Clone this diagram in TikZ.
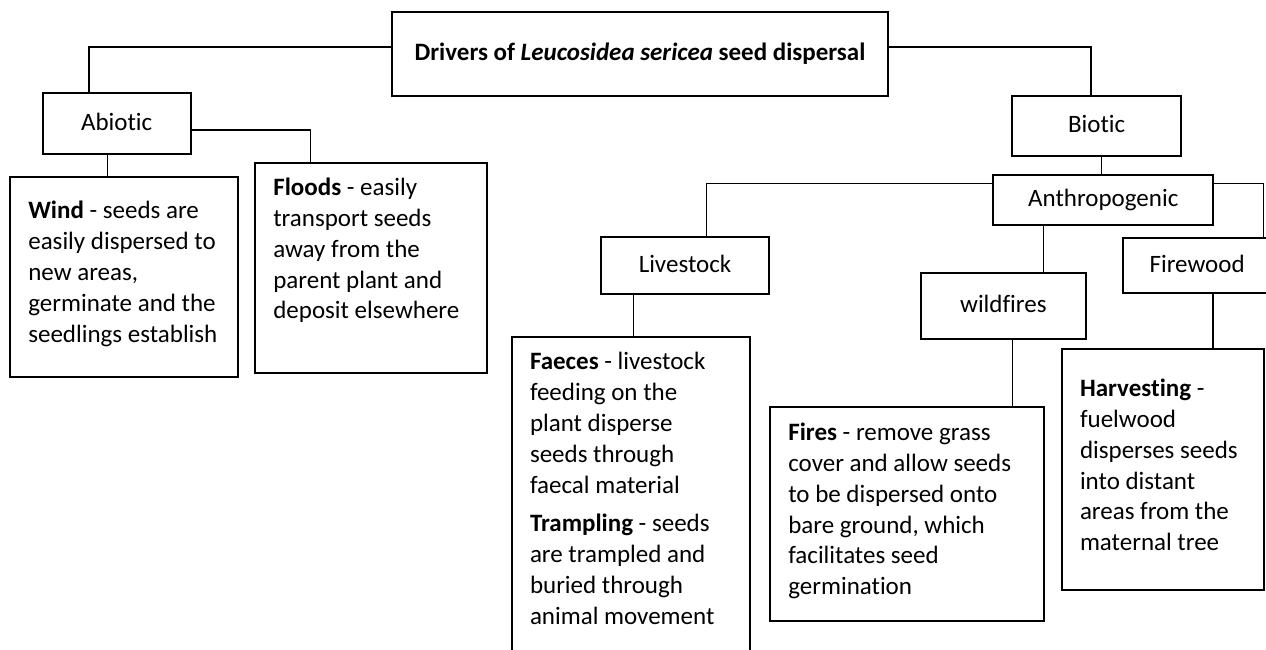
\documentclass[tikz,border=0pt]{standalone}
\usepackage{fontspec}
\setmainfont{Carlito}[Ligatures=NoCommon]
\tikzset{
  box/.style={draw, line width=1.8pt, inner sep=0pt, outer sep=0pt},
  lbl/.style={box, font=\fontsize{25}{30.8}\selectfont, text height=13pt, text depth=0pt},
  body/.style={font=\fontsize{25}{30.8}\selectfont, align=left, inner sep=0pt, outer sep=0pt, anchor=north west},
  conn/.style={line width=1.1pt},
}
\begin{document}
\begin{tikzpicture}[x=1pt,y=-1pt]
\useasboundingbox (0,0) rectangle (1266,649);
\fill[white] (0,0) rectangle (1266,649);
\clip (0,0) rectangle (1266,649);

% label boxes
\node[lbl, minimum width=496pt, minimum height=84pt] (title) at (640,54)
  {\textbf{Drivers of \textit{Leucosidea sericea} seed dispersal}};
\node[lbl, minimum width=148pt, minimum height=60.4pt] (abiotic) at (116.7,123.5) {Abiotic};
\node[lbl, minimum width=168.7pt, minimum height=60.6pt] (biotic) at (1096.65,126) {Biotic};
\node[lbl, minimum width=220pt, minimum height=50pt, yshift=-3pt] (anthro) at (1103.3,197.3) {Anthropogenic};
\node[lbl, minimum width=168.6pt, minimum height=57pt] (livestock) at (685,265.8) {Livestock};
\node[lbl, minimum width=164.7pt, minimum height=66pt] (wildfires) at (1003.35,306.3) {wildfires};
\node[lbl, minimum width=147.7pt, minimum height=55pt] (firewood) at (1197.15,265.8) {Firewood};

% text boxes
\node[box, anchor=north west, minimum width=227.7pt, minimum height=200.6pt] (wind) at (10,176.7) {};
\node[box, anchor=north west, minimum width=231.7pt, minimum height=210.6pt] (floods) at (255,162.7) {};
\node[box, anchor=north west, minimum width=238.3pt, minimum height=343pt] (faeces) at (511.7,336.7) {};
\node[box, anchor=north west, minimum width=274pt, minimum height=214pt] (fires) at (770,406.7) {};
\node[box, anchor=north west, minimum width=202.3pt, minimum height=241pt] (harvest) at (1061.7,349) {};

\node[body] (windtxt) at (28.3,197.4)
  {\strut\textbf{Wind} - seeds are\\easily dispersed to\\new areas,\\germinate and the\\seedlings establish};
\node[body] (floodstxt) at (273.3,174.1)
  {\strut\textbf{Floods} - easily\\transport seeds\\away from the\\parent plant and\\deposit elsewhere};
\node[body] (faecestxt) at (530,348.4)
  {\strut\textbf{Faeces} - livestock\\feeding on the\\plant disperse\\seeds through\\faecal material\\[8pt]\textbf{Trampling} - seeds\\are trampled and\\buried through\\animal movement};
\node[body] (firestxt) at (788.3,419.1)
  {\strut\textbf{Fires} - remove grass\\cover and allow seeds\\to be dispersed onto\\bare ground, which\\facilitates seed\\germination};
\node[body] (harvesttxt) at (1080,375.1)
  {\strut\textbf{Harvesting} -\\fuelwood\\disperses seeds\\into distant\\areas from the\\maternal tree};

% connectors
\draw[conn] ([yshift=7pt]title.west) -| ([xshift=-27.7pt]abiotic.north);
\draw[conn] ([yshift=7pt]title.east) -| ([xshift=-5.7pt]biotic.north);
\draw[conn] ([yshift=-6.5pt]abiotic.east) -| ([xshift=-60.2pt]floods.north);
\draw[conn] ([xshift=-9pt]abiotic.south) -- ([xshift=-9pt]abiotic.south |- wind.north);
\draw[conn] ([xshift=5pt]biotic.south) -- ([xshift=5pt]biotic.south |- anthro.north);
\draw[conn] ([yshift=16.6pt]anthro.west) -| ([xshift=21.7pt]livestock.north);
\draw[conn] ([yshift=16.6pt]anthro.east) -| ([xshift=66.1pt]firewood.north);
\draw[conn] ([xshift=-60pt]anthro.south) -- ([xshift=-60pt]anthro.south |- wildfires.north);
\draw[conn] ([xshift=-51.7pt]livestock.south) -- ([xshift=-51.7pt]livestock.south |- faeces.north);
\draw[conn] ([xshift=9pt]wildfires.south) -- ([xshift=9pt]wildfires.south |- fires.north);
\draw[conn] ([xshift=15.8pt]firewood.south) -- ([xshift=15.8pt]firewood.south |- harvest.north);
\end{tikzpicture}
\end{document}
